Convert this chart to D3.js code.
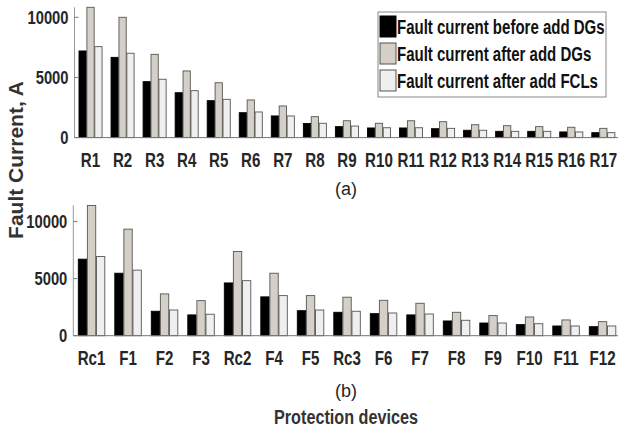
<!DOCTYPE html>
<html>
<head>
<meta charset="utf-8">
<script src="https://cdn.jsdelivr.net/npm/d3@7"></script>
<style>
body { margin: 0; background: #fff; }
text { font-family: "Liberation Sans", Arial, sans-serif; font-weight: bold; fill: #262626; }
</style>
</head>
<body>
<div></div>
<script>
let series = ["Fault current before add DGs", "Fault current after add DGs", "Fault current after add FCLs"];
let colors = ["#000000", "#d4d0c8", "#efefef"];

let relaysA = ["R1","R2","R3","R4","R5","R6","R7","R8","R9","R10","R11","R12","R13","R14","R15","R16","R17"];
let beforeA = [7200, 6670, 4650, 3730, 3070, 2070, 1800, 1170, 910, 800, 800, 740, 610, 520, 520, 470, 410];
let afterA  = [10830, 10000, 6920, 5540, 4560, 3130, 2630, 1740, 1400, 1190, 1400, 1320, 1070, 990, 910, 860, 770];
let fclA    = [7560, 7010, 4850, 3900, 3180, 2130, 1800, 1190, 960, 820, 820, 770, 610, 520, 520, 470, 410];

let devicesB = ["Rc1","F1","F2","F3","Rc2","F4","F5","Rc3","F6","F7","F8","F9","F10","F11","F12"];
let beforeB = [6700, 5470, 2140, 1820, 4620, 3400, 2190, 2050, 1930, 1820, 1290, 1110, 970, 850, 790];
let afterB  = [11400, 9330, 3660, 3070, 7370, 5470, 3510, 3370, 3100, 2840, 2050, 1760, 1640, 1380, 1230];
let fclB    = [6930, 5740, 2250, 1880, 4820, 3510, 2250, 2140, 1990, 1900, 1350, 1110, 1050, 850, 850];

let yTicks = [0, 5000, 10000];

let svg = d3.select("div")
    .append("svg")
    .attr("width", 618)
    .attr("height", 430);

// the original uses a condensed font, so squeeze text horizontally
function squeeze(x, y, sx) {
    return `translate(${x},${y}) scale(${sx},1)`;
}

function panel(cats, vals, box, label) {
    let rows = cats.map((c, i) => ({ cat: c, v: vals.map(s => s[i]) }));
    let X = d3.scaleBand()
        .domain(cats)
        .range([box.left, box.left + box.step * cats.length]);
    let X1 = d3.scaleBand()
        .domain(d3.range(series.length))
        .range([box.pad, X.bandwidth() - box.pad])
        .paddingInner(0.08);
    let Y = d3.scaleLinear()
        .domain([0, d3.max(vals, s => d3.max(s))])
        .range([box.bottom, box.top]);

    let g = svg.append("g");
    g.selectAll("g.grp")
        .data(rows)
        .enter()
        .append("g")
        .attr("class", "grp")
        .attr("transform", d => `translate(${X(d.cat)},0)`)
        .selectAll("rect")
        .data(d => d.v)
        .enter()
        .append("rect")
        .attr("x", (d, i) => X1(i))
        .attr("y", d => Y(d))
        .attr("width", X1.bandwidth())
        .attr("height", d => Y(0) - Y(d))
        .attr("fill", (d, i) => colors[i])
        .attr("stroke", (d, i) => i == 0 ? "#000" : "#555")
        .attr("stroke-width", 0.9);

    // axes
    g.append("line")
        .attr("x1", box.left).attr("x2", 618)
        .attr("y1", Y(0)).attr("y2", Y(0))
        .attr("stroke", "#777");
    g.append("line")
        .attr("x1", box.left).attr("x2", box.left)
        .attr("y1", Y(0)).attr("y2", Y.range()[1])
        .attr("stroke", "#999");
    g.selectAll("line.tick")
        .data(yTicks)
        .enter()
        .append("line")
        .attr("x1", box.left).attr("x2", box.left + 4)
        .attr("y1", d => Y(d)).attr("y2", d => Y(d))
        .attr("stroke", "#777");
    g.selectAll("text.ytick")
        .data(yTicks)
        .enter()
        .append("text")
        .attr("transform", d => squeeze(box.left - 6, Y(d), 0.82))
        .attr("dy", "0.36em")
        .attr("text-anchor", "end")
        .style("font-size", "18px")
        .text(d => d);
    g.selectAll("text.xtick")
        .data(cats)
        .enter()
        .append("text")
        .attr("transform", d => squeeze(X(d) + X.bandwidth() / 2, Y(0) + 29, 0.72))
        .attr("text-anchor", "middle")
        .style("font-size", "21px")
        .text(d => d);
    g.append("text")
        .attr("x", 346)
        .attr("y", label.y)
        .attr("text-anchor", "middle")
        .style("font-size", "18px")
        .style("font-weight", "normal")
        .text(label.text);
}

panel(relaysA, [beforeA, afterA, fclA],
    { left: 74.5, step: 32.05, pad: 4.5, top: 7.3, bottom: 137.6 },
    { text: "(a)", y: 195 });
panel(devicesB, [beforeB, afterB, fclB],
    { left: 73.3, step: 36.5, pad: 5, top: 205.5, bottom: 335.7 },
    { text: "(b)", y: 397 });

svg.append("text")
    .attr("transform", "translate(23,160) rotate(-90)")
    .attr("text-anchor", "middle")
    .style("font-size", "21px")
    .style("fill", "#333")
    .text("Fault Current, A");

svg.append("text")
    .attr("transform", squeeze(346, 424, 0.81))
    .attr("text-anchor", "middle")
    .style("font-size", "20px")
    .style("fill", "#333")
    .text("Protection devices");

// legend
let legend = svg.append("g").attr("transform", "translate(378,12)");
legend.append("rect")
    .attr("width", 228).attr("height", 85)
    .attr("fill", "#fff").attr("stroke", "#888");
let items = legend.selectAll("g.item")
    .data(series)
    .enter()
    .append("g")
    .attr("transform", (d, i) => `translate(2,${4 + i * 27})`);
items.append("rect")
    .attr("width", 16).attr("height", 21)
    .attr("fill", (d, i) => colors[i])
    .attr("stroke", (d, i) => i == 0 ? "#000" : "#555");
items.append("text")
    .attr("transform", squeeze(17, 18, 0.77))
    .style("font-size", "19.5px")
    .style("fill", "#111")
    .text(d => d);
</script>
</body>
</html>
